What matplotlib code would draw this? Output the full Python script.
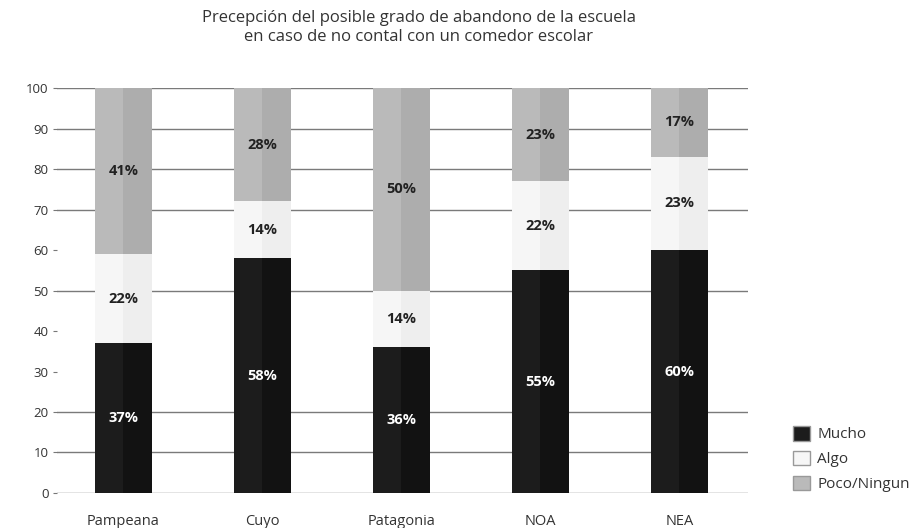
import matplotlib
matplotlib.use("Agg")
import matplotlib.pyplot as plt
import numpy as np

plt.rcParams['font.family'] = ['Open Sans', 'DejaVu Sans']

regiones = ["Pampeana", "Cuyo", "Patagonia", "NOA", "NEA"]
mucho = [37, 58, 36, 55, 60]
algo = [22, 14, 14, 22, 23]
poco = [41, 28, 50, 23, 17]
series_names = ["Mucho", "Algo", "Poco/Ningun"]
y_ticks = [0, 10, 20, 30, 40, 50, 60, 70, 80, 90, 100]
grid_levels = [0, 10, 20, 50, 70, 80, 90, 100]

colors = ["#1c1c1c", "#f6f6f6", "#bababa"]
shade = ["#121212", "#eeeeee", "#adadad"]
text_colors = ["white", "#222222", "#222222"]

fig = plt.figure(figsize=(9.2, 5.28), dpi=100)
ax = fig.add_axes([0.062, 0.0663, 0.751, 0.767])

x = np.arange(len(regiones))
width = 0.41

for lvl in grid_levels:
    ax.axhline(lvl, color="#7a7a7a", linewidth=1.0, zorder=0)

bottom = np.zeros(len(regiones))
handles = []
for vals, c, sc, tc, name in zip([mucho, algo, poco], colors, shade, text_colors, series_names):
    vals = np.array(vals, dtype=float)
    h = ax.bar(x, vals, width, bottom=bottom, color=c, edgecolor="none", zorder=2, label=name)
    # darker right half gives the bars a rounded look
    ax.bar(x + width * 0.25, vals, width * 0.5, bottom=bottom, color=sc, edgecolor="none", zorder=2)
    handles.append(h)
    for xi, v, b in zip(x, vals, bottom):
        ax.text(xi, b + v / 2, f"{int(v)}%", ha="center", va="center",
                color=tc, fontsize=10.5, fontweight="bold", zorder=3)
    bottom += vals

ax.set_xlim(-0.478, 4.493)
ax.set_ylim(0, 100)
ax.set_yticks(y_ticks)
ax.set_yticklabels([str(t) for t in y_ticks], fontsize=9.5, color="#333333")
ax.set_xticks(x)
ax.set_xticklabels(regiones, fontsize=10.5, color="#333333")
ax.tick_params(axis="y", length=3, color="#777777", pad=3)
ax.tick_params(axis="x", length=0, pad=15)
for s in ax.spines.values():
    s.set_visible(False)

fig.text(0.455, 0.947, "Precepción del posible grado de abandono de la escuela\nen caso de no contal con un comedor escolar",
         ha="center", va="center", fontsize=12, color="#333333", linespacing=1.25)

leg = fig.legend(handles=handles, labels=series_names, loc="upper left",
                 bbox_to_anchor=(0.855, 0.205), frameon=False, fontsize=11,
                 handlelength=1.1, handleheight=1.1, handletextpad=0.5,
                 labelspacing=0.55, borderaxespad=0)
for h in leg.legend_handles:
    h.set_edgecolor("#999999")
for t in leg.get_texts():
    t.set_color("#333333")

fig.savefig("out.png", dpi=100)
